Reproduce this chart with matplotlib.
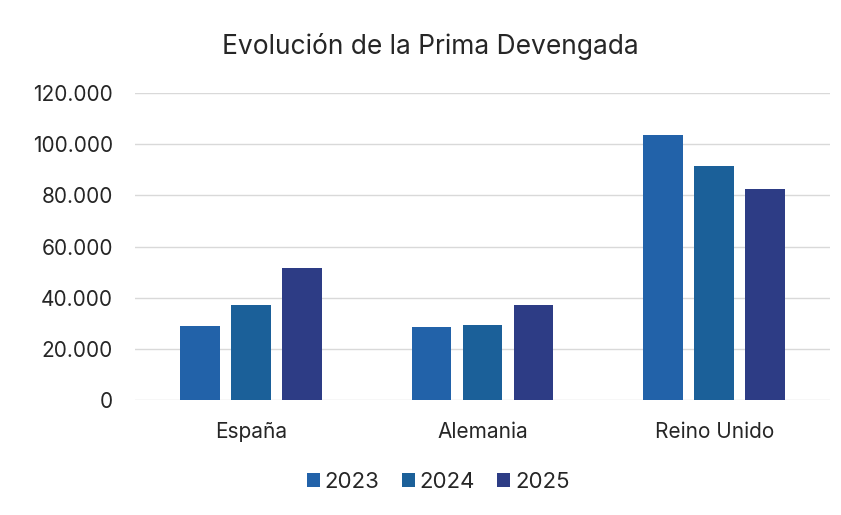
import matplotlib
matplotlib.use("Agg")
import matplotlib.pyplot as plt
import numpy as np
from matplotlib.ticker import FuncFormatter

categories = ["España", "Alemania", "Reino Unido"]
years = ["2023", "2024", "2025"]
v2023 = [29000, 28500, 103500]
v2024 = [37000, 29500, 91500]
v2025 = [51500, 37000, 82500]
series = [v2023, v2024, v2025]
colors = ["#2262A9", "#1B6099", "#2D3C85"]

plt.rcParams['font.family'] = ['Inter', 'DejaVu Sans']

fig = plt.figure(figsize=(8.41, 5.15), dpi=100)
ax = fig.add_axes([0.1605, 0.2233, 0.8265, 0.5961])

x = np.arange(len(categories))
w = 0.172
step = 0.22
for i, (vals, c, lab) in enumerate(zip(series, colors, years)):
    ax.bar(x + (i - 1) * step, vals, width=w, color=c, label=lab, zorder=3)

ax.set_xlim(-0.5, 2.5)
ax.set_ylim(0, 120000)
ax.set_yticks(np.arange(0, 120001, 20000))
ax.yaxis.set_major_formatter(FuncFormatter(lambda v, p: f"{int(v):,}".replace(",", ".")))
ax.set_xticks(x)
ax.set_xticklabels(categories)
ax.grid(axis="y", color="#d9d9d9", linewidth=1, zorder=0)
for s in ax.spines.values():
    s.set_visible(False)
ax.tick_params(axis="both", length=0, labelsize=15, colors="#262626")
ax.tick_params(axis="y", pad=16)
ax.tick_params(axis="x", pad=16)

fig.text(0.512, 0.91, "Evolución de la Prima Devengada", ha="center", va="center",
         fontsize=19, color="#262626")

leg = fig.legend(loc="center", bbox_to_anchor=(0.521, 0.064), ncol=3, frameon=False,
                 fontsize=16, handlelength=0.6, handleheight=0.6, handletextpad=0.2,
                 columnspacing=1.0)
for t in leg.get_texts():
    t.set_color("#262626")

fig.savefig("out.png", dpi=100, facecolor="white")
